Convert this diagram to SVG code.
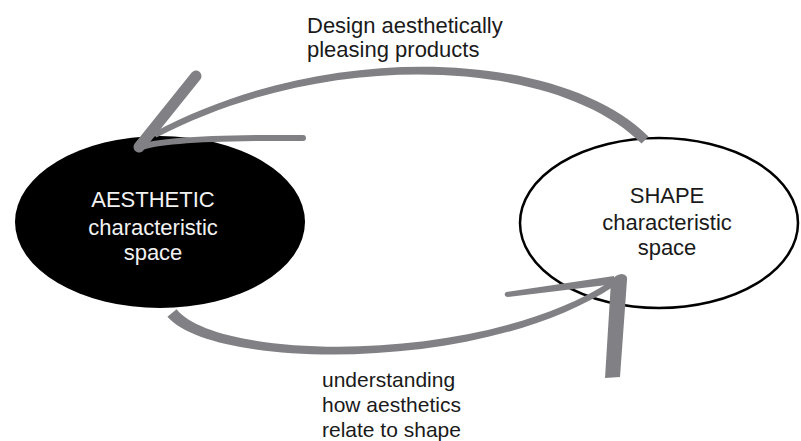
<svg xmlns="http://www.w3.org/2000/svg" width="801" height="441" viewBox="0 0 801 441">
<style>
.lbl{font-family:"Liberation Sans","DejaVu Sans",sans-serif;font-size:22px;fill:#1a1a1a}
.sm{font-size:21px}
.inv{fill:#f2f2f2;text-anchor:middle}
.mid{text-anchor:middle}
.g{fill:#818185}
.gs{fill:none;stroke:#818185;stroke-linecap:round}
</style>
<rect width="801" height="441" fill="#ffffff"/>
<g id="aesthetic">
<ellipse cx="160" cy="222" rx="145" ry="86" fill="#000000"/>
<text class="lbl inv" x="153" y="207">AESTHETIC</text>
<text class="lbl inv" x="153" y="235">characteristic</text>
<text class="lbl inv" x="153" y="260">space</text>
</g>
<g id="shape">
<ellipse cx="659" cy="223" rx="139" ry="85" fill="#ffffff" stroke="#000000" stroke-width="2.5"/>
<text class="lbl mid" x="667" y="203">SHAPE</text>
<text class="lbl mid" x="667" y="230">characteristic</text>
<text class="lbl mid" x="667" y="255">space</text>
</g>
<g id="connectors">
<path class="g" d="M 648.5 136.5 C 562 50.5, 329 38, 153.6 132.4 L 156.4 137.6 C 331 46, 558 59.5, 641.5 143.5 Z"/>
<line class="gs" x1="139" y1="147" x2="196" y2="76" stroke-width="11"/>
<path class="gs" d="M 139 148 Q 165 137 303 138" stroke-width="6"/>
<path class="g" d="M 167.4 316.8 C 212.8 369.5, 481.1 373.8, 613.6 286.5 L 610.4 281.5 C 478.9 366.2, 217.2 360.5, 176.6 309.2 Z"/>
<path class="g" d="M 611 281 Q 616 274 622 274 Q 628 275 627 280 L 620 377 L 605 378 Z"/>
<path class="g" d="M 506 292 L 614 276 L 615 284 L 507 297 Q 503 295 506 292 Z"/>
</g>
<g id="labels">
<text class="lbl" x="307" y="33">Design aesthetically</text>
<text class="lbl" x="307" y="57">pleasing products</text>
<text class="lbl sm" x="322" y="387">understanding</text>
<text class="lbl sm" x="322" y="412">how aesthetics</text>
<text class="lbl sm" x="322" y="437">relate to shape</text>
</g>
</svg>
